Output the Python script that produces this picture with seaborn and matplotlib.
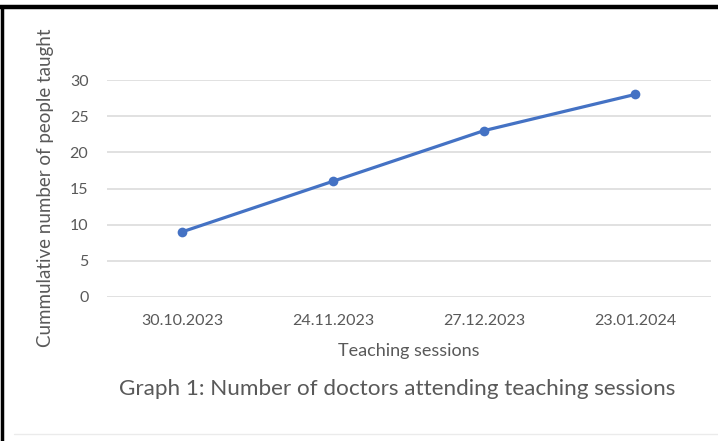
import matplotlib
matplotlib.use("Agg")
import matplotlib.pyplot as plt
import seaborn as sns
import pandas as pd
from matplotlib.lines import Line2D

sessions = ["30.10.2023", "24.11.2023", "27.12.2023", "23.01.2024"]
cumulative_taught = [9, 16, 23, 28]
y_ticks = [0, 5, 10, 15, 20, 25, 30]

sns.set_theme(style="white")
plt.rcParams["font.family"] = ["Lato", "DejaVu Sans"]

text_color = "#595959"
line_color = "#4472C4"
grid_color = "#D9D9D9"

df = pd.DataFrame({"session": sessions, "taught": cumulative_taught})

W, H = 718, 441
fig = plt.figure(figsize=(W / 100, H / 100), dpi=100)
fig.patch.set_facecolor("white")

left, right, top, bottom = 106.5, 710.5, 80, 297
ax = fig.add_axes([left / W, 1 - bottom / H, (right - left) / W, (bottom - top) / H])

sns.lineplot(data=df, x="session", y="taught", ax=ax, sort=False,
             color=line_color, linewidth=2.3, marker="o", markersize=7,
             markeredgewidth=0, clip_on=False)

ax.set_xlim(-0.5, len(sessions) - 0.5)
ax.set_ylim(0, 30)
ax.set_yticks(y_ticks)
ax.set_yticklabels([str(v) for v in y_ticks])
ax.grid(axis="y", color=grid_color, linewidth=1.1)
ax.set_axisbelow(True)
for s in ax.spines.values():
    s.set_visible(False)
ax.tick_params(axis="both", length=0, colors=text_color, labelsize=11.5)
ax.tick_params(axis="x", pad=12)
ax.tick_params(axis="y", pad=13)

ax.set_xlabel("Teaching sessions", color=text_color, fontsize=13, labelpad=11)
ax.set_ylabel("Cummulative number of people taught", color=text_color, fontsize=13.5)
ax.yaxis.set_label_coords((54 - left) / (right - left), (bottom - 188) / (bottom - top))

fig.text(397 / W, 1 - 389 / H, "Graph 1: Number of doctors attending teaching sessions",
         ha="center", va="center", color=text_color, fontsize=16.2)

# frame around the figure: thick top and left edges, faint bottom rule
fig.add_artist(Line2D([0, 1], [1 - 7 / H, 1 - 7 / H], transform=fig.transFigure,
                      color="black", linewidth=3.2))
fig.add_artist(Line2D([1.5 / W, 1.5 / W], [0, 1 - 7 / H], transform=fig.transFigure,
                      color="black", linewidth=2.5))
fig.add_artist(Line2D([14 / W, 1], [1 - 434 / H, 1 - 434 / H], transform=fig.transFigure,
                      color="#EBEBEB", linewidth=1))

fig.savefig("out.png", dpi=100, facecolor="white")
